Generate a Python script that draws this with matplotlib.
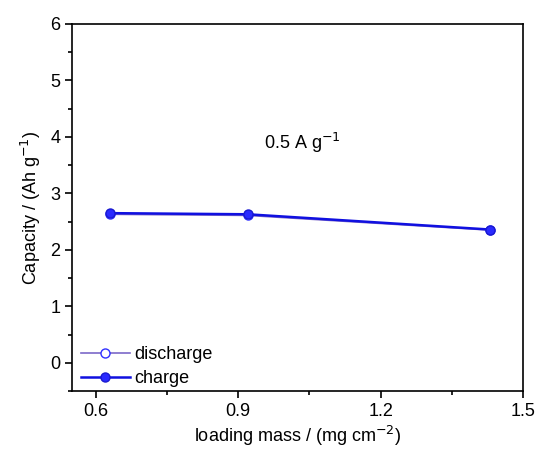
import matplotlib
matplotlib.use("Agg")
import matplotlib.pyplot as plt
from matplotlib.ticker import MultipleLocator

loading = [0.63, 0.92, 1.43]
discharge = [2.63, 2.61, 2.35]
charge = [2.65, 2.63, 2.36]

plt.rcParams['font.family'] = ['Liberation Sans', 'DejaVu Sans']
fig = plt.figure(figsize=(5.36, 4.5), dpi=100)
ax = fig.add_axes([72/536, 1-391/450, (523-72)/536, (391-24)/450])

ax.plot(loading, discharge, '-o', color='#7b68c8', mfc='white', mec='#3030ff', ms=6.5, lw=1.2, label='discharge')
ax.plot(loading, charge, '-o', color='#1010e0', mfc='#2a2aff', mec='#1a1ad0', ms=6.5, lw=1.8, label='charge')

ax.set_xlim(0.55, 1.5)
ax.set_ylim(-0.5, 6)
ax.xaxis.set_minor_locator(MultipleLocator(0.15))
ax.yaxis.set_major_locator(MultipleLocator(1))
ax.yaxis.set_minor_locator(MultipleLocator(0.5))
ax.set_xticks([0.6, 0.9, 1.2, 1.5])
ax.set_xticklabels(['0.6', '0.9', '1.2', '1.5'])
ax.tick_params(which='both', direction='out', labelsize=13)
ax.tick_params(which='major', length=5, width=1.2)
ax.tick_params(which='minor', length=3, width=1.2)
for s in ax.spines.values():
    s.set_linewidth(1.2)

ax.set_xlabel('loading mass / (mg cm$^{-2}$)', fontsize=13, labelpad=3)
ax.set_ylabel('Capacity / (Ah g$^{-1}$)', fontsize=13, labelpad=5)
ax.text(0.955, 3.9, '0.5 A g$^{-1}$', fontsize=13, ha='left', va='center')

ax.legend(loc='lower left', frameon=False, fontsize=13, handlelength=2.7,
          handletextpad=0.25, borderaxespad=0.1, labelspacing=0.4,
          bbox_to_anchor=(0.0, -0.015))

fig.savefig('out.png', dpi=100)
